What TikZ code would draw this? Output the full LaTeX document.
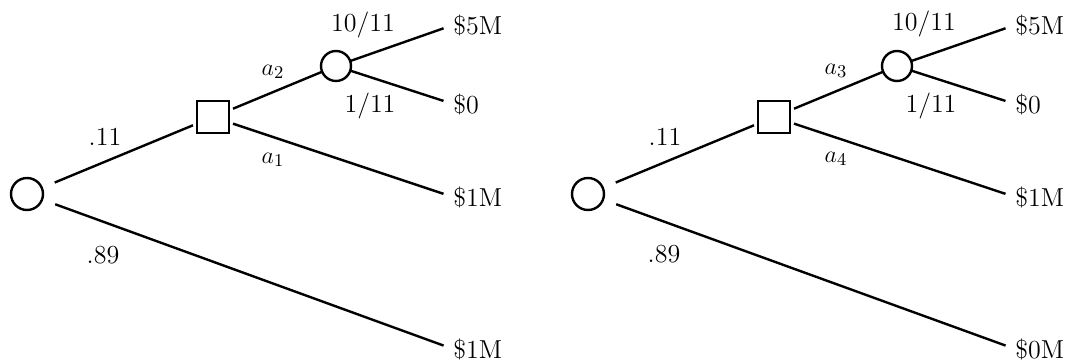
\documentclass[tikz,border=0pt]{standalone}
\begin{document}
\begin{tikzpicture}[x=0.5pt,y=-0.5pt,
  every node/.style={font=\fontsize{13}{15}\selectfont},
  rootnode/.style={circle,draw,line width=1.2pt,minimum size=16pt,inner sep=0pt,outer sep=7pt},
  chancenode/.style={circle,draw,line width=1.2pt,minimum size=15pt,inner sep=0pt,outer sep=0pt},
  decnode/.style={rectangle,draw,line width=1.4pt,minimum size=16pt,inner sep=0pt,outer sep=2pt},
  leaf/.style={anchor=west,inner sep=0pt},
  lbl/.style={inner sep=0pt},
  branch/.style={line width=1.2pt},
  toleaf/.style={line width=1.2pt,shorten >=5pt}]
\useasboundingbox (0,0) rectangle (1088,364);
% ---------- left tree ----------
\node[rootnode] (Lr) at (27,194) {};
\node[decnode] (Ls) at (213,117) {};
\node[chancenode] (Lc) at (336,66) {};
\node[leaf] (L5) at (453,25) {\$5M};
\node[leaf] (L0) at (453,104) {\$0};
\node[leaf] (L1) at (453,197) {\$1M};
\node[leaf] (Lb) at (453,349) {\$1M};
\draw[branch] (Lr) -- (Ls);
\draw[branch] (Ls) -- (Lc);
\draw[toleaf] (Lc) -- (L5.west);
\draw[toleaf] (Lc) -- (L0.west);
\draw[toleaf] (Ls) -- (L1.west);
\draw[toleaf] (Lr) -- (Lb.west);
\node[lbl] (Lp11) at (105,137) {.11};
\node[lbl] (Lp89) at (103,255) {.89};
\node[lbl] (La2) at (273,72) {$a_2$};
\node[lbl] (La1) at (273,160) {$a_1$};
\node[lbl] (Lq10) at (363,25) {10/11};
\node[lbl] (Lq1) at (370,106) {1/11};
% ---------- right tree ----------
\begin{scope}[xshift=280.5pt]
\node[rootnode] (Rr) at (27,194) {};
\node[decnode] (Rs) at (213,117) {};
\node[chancenode] (Rc) at (336,66) {};
\node[leaf] (R5) at (454,25) {\$5M};
\node[leaf] (R0) at (454,104) {\$0};
\node[leaf] (R1) at (454,197) {\$1M};
\node[leaf] (Rb) at (454,349) {\$0M};
\draw[branch] (Rr) -- (Rs);
\draw[branch] (Rs) -- (Rc);
\draw[toleaf] (Rc) -- (R5.west);
\draw[toleaf] (Rc) -- (R0.west);
\draw[toleaf] (Rs) -- (R1.west);
\draw[toleaf] (Rr) -- (Rb.west);
\node[lbl] (Rp11) at (104,137) {.11};
\node[lbl] (Rp89) at (103,254) {.89};
\node[lbl] (Ra3) at (275,71) {$a_3$};
\node[lbl] (Ra4) at (275,159) {$a_4$};
\node[lbl] (Rq10) at (363,24) {10/11};
\node[lbl] (Rq1) at (370,106) {1/11};
\end{scope}
\end{tikzpicture}
\end{document}
